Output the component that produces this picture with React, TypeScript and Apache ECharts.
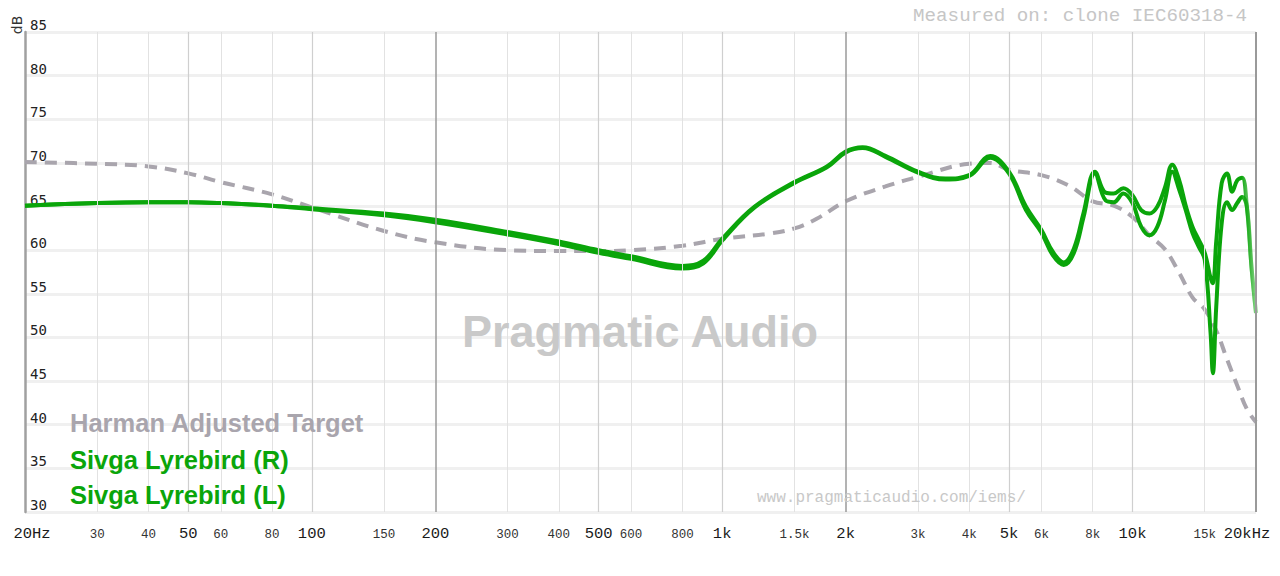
import React, { useEffect, useRef } from 'react';
import * as echarts from 'echarts';

// Harman Adjusted Target (dashed gray)
const TARGET_FREQ = [20, 30, 40, 50, 60, 80, 100, 150, 200, 300, 400, 500, 600, 800, 1000, 1300, 1500, 1700, 2000, 2500, 3000, 4000, 4500, 5000, 6000, 7000, 8000, 9000, 10000, 11000, 12000, 13000, 14000, 15000, 16000, 17000, 18000, 19000, 20000];
const TARGET_DB = [70.1, 69.9, 69.6, 68.8, 67.8, 66.4, 64.9, 62.2, 60.9, 60.0, 59.9, 59.9, 60.0, 60.5, 61.3, 61.9, 62.5, 63.6, 65.6, 67.3, 68.4, 69.9, 70.0, 69.2, 68.6, 67.4, 65.6, 65.1, 63.8, 61.7, 60.1, 57.4, 54.6, 53.2, 50.8, 47.5, 44.5, 41.8, 40.3];

// Sivga Lyrebird measurements
const IEM_FREQ = [20, 30, 40, 50, 60, 80, 100, 150, 200, 300, 400, 500, 600, 800, 900, 1000, 1200, 1500, 1800, 2000, 2200, 2500, 3000, 3500, 4000, 4500, 5000, 5500, 6000, 6400, 6800, 7200, 7600, 8100, 8600, 9000, 9500, 10000, 10500, 11000, 11500, 12000, 12500, 13000, 13500, 14000, 14500, 15000, 15500, 15700, 16000, 16500, 17000, 17500, 18000, 18500, 19000, 19500, 20000];
const DB_R = [65.1, 65.4, 65.5, 65.5, 65.4, 65.1, 64.8, 64.2, 63.5, 62.1, 61.0, 60.0, 59.3, 58.2, 58.8, 61.3, 65.0, 67.8, 69.6, 71.3, 71.8, 70.8, 69.0, 68.2, 68.6, 70.8, 69.0, 65.0, 62.3, 59.8, 58.6, 60.2, 64.3, 69.0, 66.6, 66.5, 67.1, 66.3, 64.6, 64.2, 65.0, 67.2, 69.8, 68.0, 65.0, 62.7, 61.2, 59.7, 56.8, 56.2, 61.0, 67.7, 68.8, 66.7, 68.0, 68.3, 65.0, 58.1, 52.8];
const DB_L = [65.1, 65.4, 65.5, 65.5, 65.4, 65.1, 64.7, 64.0, 63.2, 61.8, 60.7, 59.7, 59.0, 57.9, 58.5, 61.1, 64.9, 67.7, 69.5, 71.2, 71.7, 70.7, 68.9, 68.1, 68.5, 70.6, 68.8, 64.6, 62.0, 59.4, 58.3, 59.7, 63.8, 68.8, 65.7, 65.5, 66.5, 65.4, 62.7, 61.7, 62.7, 65.7, 69.0, 66.9, 64.5, 62.0, 60.4, 58.9, 50.5, 45.9, 53.5, 63.1, 65.5, 64.6, 65.4, 66.1, 65.0, 58.1, 52.8];

// Frequency axis ticks
const TICK_FREQ = [20, 30, 40, 50, 60, 80, 100, 150, 200, 300, 400, 500, 600, 800, 1000, 1500, 2000, 3000, 4000, 5000, 6000, 8000, 10000, 15000, 20000];
const TICK_LABELS = ['20Hz', '30', '40', '50', '60', '80', '100', '150', '200', '300', '400', '500', '600', '800', '1k', '1.5k', '2k', '3k', '4k', '5k', '6k', '8k', '10k', '15k', '20kHz'];
const MAJOR_TICKS = [20, 50, 100, 200, 500, 1000, 2000, 5000, 10000, 20000];
const DARK_LINES = [200, 2000, 20000];
const MEDIUM_LINES = [50, 100, 500, 1000, 5000, 10000];

const SERIES_NAMES = ['Harman Adjusted Target', 'Sivga Lyrebird (R)', 'Sivga Lyrebird (L)'];

const GREEN = '#0aa50a';
const GRAY = '#a9a5ad';

export default function App() {
  const ref = useRef<HTMLDivElement>(null);

  useEffect(() => {
    if (!ref.current) return;
    const chart = echarts.init(ref.current, null, { renderer: 'svg' });

    const fade = new echarts.graphic.LinearGradient(0, 0, 1, 0, [
      { offset: 0, color: GREEN },
      { offset: 0.988, color: GREEN },
      { offset: 1, color: 'rgba(10,165,10,0.25)' },
    ]);

    const markData = TICK_FREQ.map((f, i) => {
      const major = MAJOR_TICKS.includes(f);
      let lineStyle: any = { color: '#e2e2e2', width: 1, type: 'solid' };
      if (DARK_LINES.includes(f)) lineStyle = { color: '#9a9a9a', width: f === 20000 ? 2 : 1.5, type: 'solid' };
      else if (MEDIUM_LINES.includes(f)) lineStyle = { color: '#cfcfcf', width: 1.2, type: 'solid' };
      if (f === 20) lineStyle = { color: 'rgba(0,0,0,0)', width: 0, type: 'solid' };
      let padding: number[] = [0, 0, 0, 0];
      if (f === 20) padding = [0, 0, 0, 14];
      if (f === 20000) padding = [0, 18, 0, 0];
      return {
        xAxis: f,
        lineStyle,
        label: {
          show: true,
          position: 'start',
          formatter: TICK_LABELS[i],
          distance: major ? 14 : 16,
          fontSize: major ? 15.5 : 12.5,
          fontFamily: '"Liberation Mono", "Courier New", monospace',
          color: major ? '#1a1a1a' : '#333',
          padding,
        },
      };
    });

    const toPairs = (fs: number[], vs: number[]) => fs.map((f, i) => [f, vs[i]]);

    const textZ = 100;

    chart.setOption({
      animation: false,
      grid: { left: 25, right: 24, top: 32, bottom: 64, containLabel: false },
      xAxis: {
        type: 'log',
        logBase: 10,
        min: 20,
        max: 20000,
        axisLine: { show: false },
        axisTick: { show: false },
        axisLabel: { show: false },
        splitLine: { show: false },
      },
      yAxis: {
        type: 'value',
        min: 30,
        max: 85,
        interval: 5,
        axisLine: { show: true, lineStyle: { color: '#a0a0a0', width: 2.5 } },
        axisTick: { show: false },
        axisLabel: {
          inside: true,
          margin: 5,
          verticalAlign: 'bottom',
          fontSize: 14,
          fontFamily: '"DejaVu Sans Mono", monospace',
          color: '#222',
        },
        splitLine: { show: true, lineStyle: { color: '#f0f0f0', width: 3 } },
      },
      series: [
        {
          name: 'grid',
          type: 'line',
          data: [],
          silent: true,
          z: 1,
          markLine: {
            silent: true,
            symbol: ['none', 'none'],
            animation: false,
            data: markData,
          },
        },
        {
          name: SERIES_NAMES[0],
          type: 'line',
          data: toPairs(TARGET_FREQ, TARGET_DB),
          smooth: 0.4,
          showSymbol: false,
          z: 2,
          lineStyle: { color: GRAY, width: 4, type: [12, 8] },
        },
        {
          name: SERIES_NAMES[1],
          type: 'line',
          data: toPairs(IEM_FREQ, DB_R),
          smooth: 0.4,
          showSymbol: false,
          z: 3,
          lineStyle: { color: fade, width: 4 },
        },
        {
          name: SERIES_NAMES[2],
          type: 'line',
          data: toPairs(IEM_FREQ, DB_L),
          smooth: 0.4,
          showSymbol: false,
          z: 3,
          lineStyle: { color: fade, width: 4 },
        },
      ],
      graphic: [
        {
          type: 'text',
          x: 17,
          y: 25,
          z: textZ,
          rotation: Math.PI / 2,
          style: { text: 'dB', fontSize: 14, fontFamily: '"DejaVu Sans", sans-serif', fill: '#333', align: 'center', verticalAlign: 'middle' },
        },
        {
          type: 'text',
          x: 1247,
          y: 16,
          z: textZ,
          style: { text: 'Measured on: clone IEC60318-4', fontSize: 19.2, fontFamily: '"Liberation Mono", monospace', fill: '#c6c6c6', align: 'right', verticalAlign: 'middle' },
        },
        {
          type: 'text',
          x: 640,
          y: 331,
          z: textZ,
          style: { text: 'Pragmatic Audio', fontSize: 45, fontWeight: 'bold', fontFamily: '"Liberation Sans", Arial, sans-serif', fill: '#c9c9c9', align: 'center', verticalAlign: 'middle' },
        },
        {
          type: 'text',
          x: 757,
          y: 498,
          z: textZ,
          style: { text: 'www.pragmaticaudio.com/iems/', fontSize: 16, fontFamily: '"Liberation Mono", monospace', fill: '#c8c8c8', align: 'left', verticalAlign: 'middle' },
        },
        {
          type: 'text',
          x: 70,
          y: 423,
          z: textZ,
          style: { text: SERIES_NAMES[0], fontSize: 25.5, fontWeight: 'bold', fontFamily: '"Liberation Sans", Arial, sans-serif', fill: GRAY, align: 'left', verticalAlign: 'middle' },
        },
        {
          type: 'text',
          x: 70,
          y: 459.5,
          z: textZ,
          style: { text: SERIES_NAMES[1], fontSize: 25.5, fontWeight: 'bold', fontFamily: '"Liberation Sans", Arial, sans-serif', fill: GREEN, align: 'left', verticalAlign: 'middle' },
        },
        {
          type: 'text',
          x: 70,
          y: 495,
          z: textZ,
          style: { text: SERIES_NAMES[2], fontSize: 25.5, fontWeight: 'bold', fontFamily: '"Liberation Sans", Arial, sans-serif', fill: GREEN, align: 'left', verticalAlign: 'middle' },
        },
      ],
    });

    return () => chart.dispose();
  }, []);

  return <div ref={ref} style={{ position: 'fixed', left: 0, top: 0, width: 1280, height: 576, background: '#fff' }} />;
}
